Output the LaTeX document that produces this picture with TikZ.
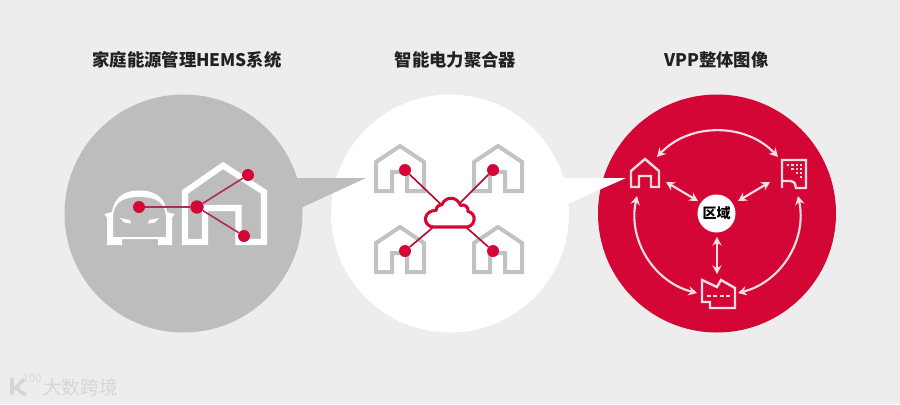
\documentclass[tikz,border=0pt]{standalone}
\usepackage{fontspec}
\setmainfont{Noto Sans CJK SC}
\usetikzlibrary{arrows.meta}
\definecolor{bgc}{HTML}{EEEDED}
\definecolor{grayc}{HTML}{BDBDBD}
\definecolor{redc}{HTML}{D40636}
\definecolor{linkc}{HTML}{AC2E4E}
\definecolor{pinkc}{HTML}{FBDDE3}
\definecolor{housec}{HTML}{C2C2C2}
\definecolor{titlec}{HTML}{222222}
\definecolor{markc}{HTML}{D6D6D6}
\tikzset{
  bigdisc/.style={circle,inner sep=0pt,minimum size=178.5pt,fill=#1},
  pointer/.style={fill=#1,draw=none},
  titletext/.style={font=\fontsize{13pt}{15pt}\selectfont\bfseries,text=titlec,inner sep=0pt,anchor=center},
  dot/.style={circle,fill=redc,inner sep=0pt,minimum size=#1},
  dot/.default=9pt,
  link/.style={draw=linkc,line width=1.2pt},
  bighouse/.style={draw=white,line width=4.6pt,miter limit=4},
  smallhouse/.style={draw=housec,line width=3pt},
  redicon/.style={draw=pinkc,line width=1.8pt,line join=miter},
  tiny/.style={fill=pinkc,draw=none},
  twoway/.style={draw=pinkc,line width=1.6pt,{Stealth[length=6.5pt,width=7pt]}-{Stealth[length=6.5pt,width=7pt]}},
}
\newcommand{\smallhome}[2]{%
  \draw[smallhouse,shift={(#1,#2)}] (376,191) -- (376,162) -- (400,146) -- (424,162) -- (424,191) -- (407,191) -- (407,172) -- (392,172) -- (392,191) -- cycle;}
\begin{document}
\begin{tikzpicture}[x=0.75pt,y=-0.75pt]
\useasboundingbox (0,0) rectangle (900,404);
\fill[bgc] (0,0) rectangle (900,404);

% discs
\node[bigdisc=grayc] (hems) at (183.5,213.5) {};
\node[bigdisc=white] (agg) at (450,213.5) {};
\node[bigdisc=redc] (vpp) at (717,213.5) {};
\fill[pointer=grayc] (292,178) -- (366,178) -- (292,212) -- cycle;
\fill[pointer=white] (556,178) -- (626,178) -- (556,209) -- cycle;

% titles
\node[titletext] (t1) at (187,60) {家庭能源管理HEMS系统};
\node[titletext] (t2) at (455.5,60) {智能电力聚合器};
\node[titletext] (t3) at (716.5,60) {VPP整体图像};

% car
\fill[white,even odd rule]
  (107,245) -- (122,245) -- (122,239) -- (158,239) -- (158,245) -- (172,245) -- (172,218) -- (174.5,214) -- (167,212)
  .. controls (165,199) and (157,190.5) .. (139.5,190.5)
  .. controls (122,190.5) and (114,199) .. (112,212) -- (104.5,214) -- (107,218) -- cycle
  (113,237) -- (113,216) .. controls (114,203) and (122,197) .. (139.5,197)
  .. controls (157,197) and (165,203) .. (166,216) -- (166,237) -- cycle;
\fill[white] (120,218) -- (130,220) -- (131,223.5) -- (124,222.5) -- cycle;
\fill[white] (159,218) -- (149,220) -- (148,223.5) -- (155,222.5) -- cycle;

% big house
\draw[bighouse] (185,242) -- (185,192) -- (223,165.5) -- (264,192) -- (264,242) -- (238.5,242) -- (238.5,208) -- (205,208) -- (205,242) -- cycle;

\node[dot] (cardot) at (139,207) {};
\node[dot=10pt] (hub) at (197,207) {};
\node[dot] (up) at (248,175) {};
\node[dot] (low) at (244,236) {};
\draw[link] (cardot) -- (hub);
\draw[link] (hub) -- (up);
\draw[link] (hub) -- (low);

% aggregator houses
\smallhome{0}{0}
\smallhome{98}{0}
\smallhome{0}{81}
\smallhome{98}{81}
\node[dot] (a1) at (405,170) {};
\node[dot] (a2) at (493,170) {};
\node[dot] (a3) at (405,251) {};
\node[dot] (a4) at (493,251) {};
\coordinate (cloud) at (450,213);
\draw[link,draw=redc!85!black] (a1) -- (cloud);
\draw[link,draw=redc!85!black] (a2) -- (cloud);
\draw[link,draw=redc!85!black] (a3) -- (cloud);
\draw[link,draw=redc!85!black] (a4) -- (cloud);
\filldraw[fill=white,draw=redc,line width=2.3pt,line join=round]
  (434,227) .. controls (428,227) and (425,222.5) .. (425.5,218)
  .. controls (426,213.5) and (431,210) .. (436,210.5)
  .. controls (436.5,206.5) and (439,204.5) .. (442,204.5)
  .. controls (445,196.5) and (457,195.5) .. (460.5,205.5)
  .. controls (464,203.5) and (469,207) .. (468,211.5)
  .. controls (472,212) and (475,216) .. (474,220.5)
  .. controls (473,225) and (469,227.5) .. (465,227) -- cycle;

% VPP icons
\draw[redicon] (631,187) -- (631,171) -- (645,159) -- (659,171) -- (659,187) -- (651,187) -- (651,176) -- (639,176) -- (639,187) -- cycle;
\draw[redicon] (782,188) -- (782,160) -- (806,160) -- (806,188) -- (796,188) .. controls (795,183) and (794,181) .. (791,181) -- (782,181) -- cycle;
\foreach \p in {(788,165),(792.5,165),(797,165),(801,165),(792.5,169),(797,169),(801,169),(797,173),(801,173),(801,177)}
  \fill[tiny] \p ++(-1.4,-1.4) rectangle ++(2.8,2.8);
\draw[redicon] (702,280) -- (717,287) -- (721,280) -- (735,288) -- (735,308) -- (710,308) -- (710,302) -- (702,302) -- cycle;
\foreach \p in {(709,296),(715,296),(722,296),(728,296)}
  \fill[tiny] \p ++(-1.7,-1.3) rectangle ++(3.4,2.6);

\node[circle,fill=white,inner sep=0pt,minimum size=28.5pt,font=\fontsize{10.5pt}{12pt}\selectfont\bfseries,text=black] (region) at (716.5,213.5) {区域};

\coordinate (homeA) at (657,157);
\coordinate (bldA) at (778,157);
\coordinate (homeB) at (637,196);
\coordinate (factA) at (697,293);
\coordinate (bldB) at (798,196);
\coordinate (factB) at (738,293);
\coordinate (homeC) at (666,182);
\coordinate (bldC) at (770,182);
\coordinate (factC) at (717,274);
\coordinate (regA) at (698,201);
\coordinate (regB) at (738,201);
\coordinate (regC) at (717,237);
\draw[twoway] (homeA) to[bend left=47] (bldA);
\draw[twoway] (homeB) to[bend right=44] (factA);
\draw[twoway] (bldB) to[bend left=44] (factB);
\draw[twoway] (homeC) -- (regA);
\draw[twoway] (bldC) -- (regB);
\draw[twoway] (regC) -- (factC);

% watermark
\draw[markc,line width=2.8pt,line cap=round,line join=round] (12,379) -- (12,394) (13,389) .. controls (17,387) and (20,384) .. (23,380) (16,387) .. controls (19,391) and (22,393) .. (25,394);
\node[font=\fontsize{8.5pt}{9pt}\selectfont,text=markc,inner sep=0pt] (mark100) at (32,378) {100};
\node[font=\fontsize{14pt}{16pt}\selectfont,text=markc,inner sep=0pt] (markt) at (80.5,387) {大数跨境};
\end{tikzpicture}
\end{document}
